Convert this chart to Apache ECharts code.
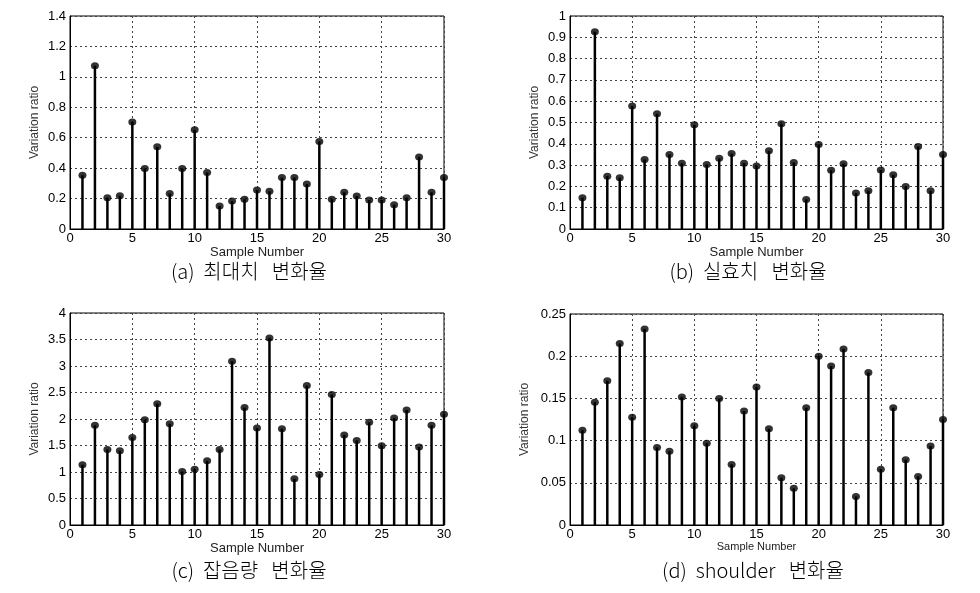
<!DOCTYPE html>
<html>
<head>
<meta charset="utf-8">
<script src="https://cdn.jsdelivr.net/npm/echarts@6/dist/echarts.min.js"></script>
<style>
html,body{margin:0;padding:0;background:#fff;}
#c{width:980px;height:593px;}
</style>
</head>
<body>
<div id="c"></div>
<script>
// Sample numbers 1..30
var samples = [1,2,3,4,5,6,7,8,9,10,11,12,13,14,15,16,17,18,19,20,21,22,23,24,25,26,27,28,29,30];

// (a) peak value variation ratio
var seriesA = [0.353,1.073,0.206,0.219,0.704,0.397,0.540,0.233,0.397,0.652,0.371,0.151,0.184,0.195,0.257,0.248,0.338,0.338,0.296,0.575,0.195,0.241,0.217,0.191,0.191,0.160,0.206,0.474,0.241,0.338];
// (b) RMS variation ratio
var seriesB = [0.147,0.926,0.248,0.241,0.578,0.326,0.541,0.350,0.309,0.489,0.303,0.332,0.354,0.309,0.296,0.367,0.494,0.312,0.139,0.397,0.276,0.306,0.169,0.180,0.277,0.255,0.199,0.387,0.179,0.350];
// (c) noise amount variation ratio
var seriesC = [1.136,1.880,1.426,1.400,1.653,1.987,2.290,1.910,1.010,1.054,1.211,1.426,3.090,2.215,1.830,3.530,1.817,0.871,2.630,0.953,2.460,1.700,1.596,1.937,1.495,2.020,2.170,1.470,1.880,2.088];
// (d) shoulder variation ratio
var seriesD = [0.1124,0.1455,0.171,0.215,0.1278,0.2323,0.0919,0.0875,0.1518,0.1175,0.097,0.1498,0.0718,0.1352,0.1636,0.114,0.056,0.0434,0.139,0.200,0.1885,0.2086,0.0339,0.1806,0.0662,0.139,0.0773,0.0576,0.0935,0.125];

var xTicks = ['0','5','10','15','20','25','30'];
var yTicksA = ['0','0.2','0.4','0.6','0.8','1','1.2','1.4'];
var yTicksB = ['0','0.1','0.2','0.3','0.4','0.5','0.6','0.7','0.8','0.9','1'];
var yTicksC = ['0','0.5','1','1.5','2','2.5','3','3.5','4'];
var yTicksD = ['0','0.05','0.1','0.15','0.2','0.25'];

var captions = ['(a)  최대치   변화율','(b)  실효치   변화율','(c)  잡음량   변화율','(d)  shoulder   변화율'];
var xName = 'Sample Number';
var yName = 'Variation ratio';

var panels = [
  {data: seriesA, ticks: yTicksA, max: 1.4, interval: 0.2, grid:{left:70, top:16, width:374, height:213}, yNameGap:29, xNameSize:13, xNameGap:13, cap:{x:249,y:271}},
  {data: seriesB, ticks: yTicksB, max: 1.0, interval: 0.1, grid:{left:570, top:16, width:373, height:213}, yNameGap:29, xNameSize:13, xNameGap:13, cap:{x:748,y:271}},
  {data: seriesC, ticks: yTicksC, max: 4, interval: 0.5, grid:{left:70, top:313, width:374, height:212}, yNameGap:29, xNameSize:13, xNameGap:13, cap:{x:249,y:570}},
  {data: seriesD, ticks: yTicksD, max: 0.25, interval: 0.05, grid:{left:570, top:314, width:373, height:211}, yNameGap:39, xNameSize:11, xNameGap:14, cap:{x:753,y:570}}
];

var grids = [], xAxes = [], yAxes = [], series = [], graphics = [];
var tickFont = 'Liberation Sans, Arial, sans-serif';
panels.forEach(function(p, i){
  grids.push({left:p.grid.left, top:p.grid.top, width:p.grid.width, height:p.grid.height, show:true, borderColor:'#000', borderWidth:1, backgroundColor:'#fff'});
  xAxes.push({
    type:'value', gridIndex:i, min:0, max:30, interval:5,
    name:xName, nameLocation:'middle', nameGap:p.xNameGap,
    nameTextStyle:{fontFamily:tickFont, fontSize:p.xNameSize, color:'#222'},
    axisLine:{show:true, lineStyle:{color:'#000', width:1}},
    axisTick:{show:false},
    axisLabel:{fontFamily:tickFont, fontSize:13, color:'#000', margin:3,
      formatter:function(v){ var k = Math.round(v/5); return xTicks[k] !== undefined ? xTicks[k] : ''; }},
    splitLine:{show:true, lineStyle:{color:'#444', type:[2,3], width:1}}
  });
  yAxes.push({
    type:'value', gridIndex:i, min:0, max:p.max, interval:p.interval,
    name:yName, nameLocation:'middle', nameGap:p.yNameGap, nameRotate:90,
    nameTextStyle:{fontFamily:'Liberation Sans Narrow, Liberation Sans, Arial, sans-serif', fontSize:12, color:'#333'},
    axisLine:{show:true, lineStyle:{color:'#000', width:1}},
    axisTick:{show:false},
    axisLabel:{fontFamily:tickFont, fontSize:13, color:'#000', margin:4,
      formatter:function(v){ var k = Math.round(v/p.interval); return p.ticks[k] !== undefined ? p.ticks[k] : ''; }},
    splitLine:{show:true, lineStyle:{color:'#444', type:[2,3], width:1}}
  });
  var pts = samples.map(function(s, j){ return [s, p.data[j]]; });
  series.push({
    type:'bar', xAxisIndex:i, yAxisIndex:i, data:pts, barWidth:2.5,
    itemStyle:{color:'#000'}, silent:true, animation:false
  });
  series.push({
    type:'scatter', xAxisIndex:i, yAxisIndex:i, data:pts, symbol:'circle', symbolSize:[8,7],
    itemStyle:{color:'#000'}, silent:true, animation:false, z:5
  });
  graphics.push({
    type:'text', x:p.cap.x, y:p.cap.y,
    style:{text:captions[i], fill:'#000', font:'300 20px "Noto Sans CJK KR", sans-serif', textAlign:'center', textVerticalAlign:'middle'}
  });
});

var chart = echarts.init(document.getElementById('c'), null, {renderer:'canvas'});
chart.setOption({
  backgroundColor:'#fff',
  animation:false,
  grid:grids, xAxis:xAxes, yAxis:yAxes, series:series,
  graphic:graphics
});
</script>
</body>
</html>
